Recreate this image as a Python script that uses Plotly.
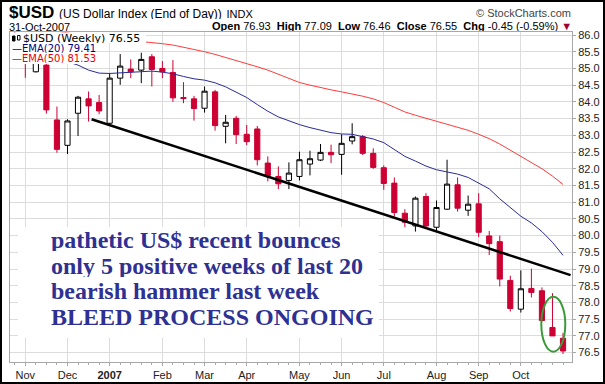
import pandas as pd
import plotly.graph_objects as go

# ---------------- data ----------------
week_start = "2006-10-30"
n_weeks = 53
opens = [85.95, 85.70, 84.90, 85.10, 83.46, 82.70, 83.66, 84.09, 83.98, 83.36,
         84.71, 84.98, 84.95, 85.35, 85.00, 84.88, 84.13, 84.09, 83.81, 84.30,
         83.27, 83.51, 83.03, 83.19, 82.17, 81.77, 81.65, 81.77, 82.14, 82.26,
         82.49, 82.43, 82.83, 82.96, 82.46, 82.03, 81.57, 80.67, 80.29, 81.17,
         80.25, 80.79, 81.52, 80.76, 80.95, 79.99, 79.82, 78.66, 77.80, 78.42,
         78.35, 77.25, 76.93]
highs = [86.20, 85.90, 85.50, 85.20, 83.86, 83.48, 84.18, 84.31, 84.21, 84.86,
         85.43, 85.27, 85.47, 85.43, 85.22, 85.25, 84.59, 84.18, 84.46, 84.36,
         83.61, 83.58, 83.31, 83.28, 82.37, 82.07, 82.19, 82.51, 82.54, 82.74,
         82.72, 83.03, 83.36, 83.01, 82.61, 82.10, 81.74, 80.79, 81.17, 81.27,
         81.05, 82.27, 81.74, 81.20, 81.27, 80.14, 80.00, 78.80, 78.96, 79.01,
         78.45, 78.28, 77.09]
lows = [85.40, 84.72, 84.88, 83.65, 82.48, 82.44, 82.98, 83.41, 83.63, 83.31,
        84.51, 84.71, 84.56, 84.46, 84.71, 84.00, 83.96, 83.44, 83.68, 83.14,
        82.76, 82.74, 82.71, 82.10, 81.62, 81.39, 81.39, 81.65, 81.80, 82.23,
        82.17, 81.82, 82.73, 82.41, 82.00, 81.37, 80.57, 80.25, 80.12, 80.22,
        80.12, 80.77, 80.72, 80.59, 79.96, 79.42, 78.48, 77.73, 77.70, 78.15,
        77.43, 77.00, 76.46]
closes = [85.60, 85.25, 85.30, 83.76, 82.58, 83.43, 84.14, 83.88, 83.73, 84.71,
          85.07, 84.90, 85.27, 84.97, 84.90, 84.12, 84.10, 83.80, 84.32, 83.29,
          83.39, 83.02, 82.81, 82.27, 81.80, 81.55, 81.87, 82.27, 82.30, 82.49,
          82.42, 82.76, 82.96, 82.46, 82.04, 81.56, 80.69, 80.40, 81.12, 80.29,
          80.84, 81.54, 80.82, 80.94, 80.10, 79.76, 78.70, 77.82, 78.41, 78.30,
          77.46, 77.00, 76.55]
ema20 = [85.60, 85.55, 85.50, 85.40, 85.30, 85.20, 85.10, 84.95, 84.86, 84.85,
         84.87, 84.89, 84.90, 84.92, 84.89, 84.84, 84.76, 84.69, 84.65, 84.57,
         84.45, 84.30, 84.13, 83.92, 83.72, 83.55, 83.43, 83.32, 83.23, 83.15,
         83.08, 83.04, 83.03, 82.96, 82.89, 82.78, 82.58, 82.37, 82.23, 82.08,
         81.97, 81.91, 81.84, 81.74, 81.58, 81.40, 81.10, 80.85, 80.58, 80.38,
         80.12, 79.80, 79.41]
ema50 = [86.30, 86.25, 86.20, 86.15, 86.10, 86.05, 86.00, 85.97, 85.93, 85.90,
         85.87, 85.84, 85.82, 85.78, 85.74, 85.70, 85.64, 85.56, 85.50, 85.42,
         85.33, 85.25, 85.15, 85.05, 84.95, 84.83, 84.70, 84.58, 84.50, 84.42,
         84.36, 84.30, 84.24, 84.17, 84.09, 83.98, 83.84, 83.70, 83.60, 83.52,
         83.42, 83.33, 83.24, 83.15, 83.03, 82.90, 82.74, 82.56, 82.36, 82.18,
         82.00, 81.78, 81.53]
trend_x = ["2006-12-20", "2007-11-03"]
trend_y = [83.48, 78.82]
month_ticks = ["2006-11-06", "2006-12-04", "2007-01-01", "2007-02-05", "2007-03-05",
               "2007-04-02", "2007-05-07", "2007-06-04", "2007-07-02", "2007-08-06",
               "2007-09-03", "2007-10-01"]
month_labels = ["Nov", "Dec", "<b>2007</b>", "Feb", "Mar", "Apr", "May", "Jun",
                "Jul", "Aug", "Sep", "Oct"]
note_lines = ["pathetic US$ recent bounces", "only 5 positive weeks of last 20",
              "bearish hammer last week", "BLEED PROCESS ONGOING"]
dates = pd.date_range(week_start, periods=n_weeks, freq="7D")

# ---------------- layout helpers ----------------
W, H = 605, 384
L, R, T, B = 10, 572, 32, 362


def px(x):
    return (x - L) / (R - L)


def py(y):
    return (B - y) / (B - T)


RED = "#cc0033"
fig = go.Figure()
fig.add_trace(go.Candlestick(
    x=dates, open=opens, high=highs, low=lows, close=closes,
    increasing=dict(line=dict(color="black", width=1), fillcolor="white"),
    decreasing=dict(line=dict(color=RED, width=1), fillcolor=RED),
    showlegend=False, hoverinfo="skip"))
fig.add_trace(go.Scatter(x=dates, y=ema20, mode="lines",
                         line=dict(color="#2a2a9a", width=1), showlegend=False))
fig.add_trace(go.Scatter(x=dates, y=ema50, mode="lines",
                         line=dict(color="#ff3b3b", width=1), showlegend=False))
fig.add_trace(go.Scatter(x=trend_x, y=trend_y, mode="lines",
                         line=dict(color="black", width=2.5), showlegend=False))

shapes = []
# legend background
shapes.append(dict(type="rect", xref="paper", yref="paper", layer="above",
                   x0=px(10.5), x1=px(146), y0=py(43), y1=py(32.5),
                   fillcolor="white", line=dict(width=0)))
shapes.append(dict(type="rect", xref="paper", yref="paper", layer="above",
                   x0=px(10.5), x1=px(88), y0=py(64), y1=py(43),
                   fillcolor="white", line=dict(width=0)))
# note background
shapes.append(dict(type="rect", xref="paper", yref="paper", layer="above",
                   x0=px(18), x1=px(379), y0=py(338), y1=py(227),
                   fillcolor="white", line=dict(width=0)))
# green ellipse
shapes.append(dict(type="circle", xref="x", yref="y", layer="above",
                   x0="2007-10-14 14:00", x1="2007-10-30 12:00", y0=76.53, y1=78.17,
                   line=dict(color="#3a9a3a", width=2)))
# outer frame
shapes.append(dict(type="rect", xref="paper", yref="paper", layer="above",
                   x0=px(1), x1=px(604), y0=py(383), y1=py(1),
                   line=dict(color="black", width=2)))
# tiny candle icon in legend
shapes.append(dict(type="rect", xref="paper", yref="paper", layer="above",
                   x0=px(12.5), x1=px(15), y0=py(41), y1=py(36),
                   fillcolor="black", line=dict(color="black", width=1)))
shapes.append(dict(type="rect", xref="paper", yref="paper", layer="above",
                   x0=px(17.5), x1=px(20), y0=py(40), y1=py(35.5),
                   fillcolor="white", line=dict(color="black", width=1)))

ann = []
FONT = "Liberation Sans, Arial, sans-serif"


def add_text(x, y, text, size, color="black", family=FONT, xanchor="left", h=None):
    ann.append(dict(xref="paper", yref="paper", x=px(x), y=py(y), xanchor=xanchor,
                    yanchor="middle", showarrow=False, text=text,
                    height=h if h else size, borderpad=0,
                    font=dict(family=family, size=size, color=color)))


add_text(8, 11.5, "<b>$USD</b> <span style='font-size:12px'>(US Dollar Index (End of Day))</span>"
                  " <span style='font-size:11px'>INDX</span>", 17, h=14)
add_text(8, 26.5, "31-Oct-2007", 11, h=9)
add_text(573, 26, "<b>Open</b> 76.93  <b>High</b> 77.09  <b>Low</b> 76.46  "
                  "<b>Close</b> 76.55  <b>Chg</b> -0.45 (-0.59%) "
                  "<span style='color:#a00030'>▼</span>", 11, xanchor="right", h=10)
add_text(572, 13, "© StockCharts.com", 11, color="#444444", xanchor="right", h=10)
LFONT = "DejaVu Sans, Verdana, sans-serif"
add_text(22, 38, "$USD (Weekly) 76.55", 11, family=LFONT, h=10)
add_text(11, 48.5, "—EMA(20) 79.41", 10, color="#000080", family=LFONT, h=9)
add_text(11, 59, "—EMA(50) 81.53", 10, color="#ee0000", family=LFONT, h=9)
for i, line in enumerate(note_lines):
    add_text(50, 240 + 25.5 * i, "<b>%s</b>" % line, 24, color="#2e3192",
             family="Liberation Serif, Times New Roman, serif", h=22)

fig.update_layout(
    template="none",
    width=W, height=H,
    margin=dict(l=L, r=W - R, t=T, b=H - B, autoexpand=False, pad=0),
    paper_bgcolor="white", plot_bgcolor="white",
    shapes=shapes, annotations=ann, showlegend=False,
    xaxis=dict(type="date", range=["2006-10-26 20:00", "2007-11-03 23:00"],
               tickvals=month_ticks, ticktext=month_labels, automargin=False,
               showgrid=True, gridcolor="#dcdcdc", gridwidth=1,
               showline=True, linecolor="#a8a8a8", mirror=True,
               ticks="outside", ticklen=3, tickcolor="#a8a8a8",
               tickfont=dict(family=FONT, size=11, color="#222222"),
               rangeslider=dict(visible=False),
               minor=dict(ticks="outside", ticklen=2, tickcolor="#a8a8a8",
                          dtick=7 * 24 * 3600 * 1000, tick0=week_start,
                          showgrid=False)),
    yaxis=dict(side="right", range=[76.22, 86.09], dtick=0.5, tick0=76.5,
               tickformat=".1f", showgrid=True, gridcolor="#dcdcdc",
               automargin=False,
               showline=True, linecolor="#a8a8a8", mirror=True,
               ticks="outside", ticklen=3, tickcolor="#a8a8a8",
               tickfont=dict(family=FONT, size=11, color="#222222"),
               zeroline=False),
)
fig.write_html("out.html", config={"displayModeBar": False, "staticPlot": True},
               post_script="document.body.style.margin='0';"
                           "document.body.style.overflow='hidden';")
